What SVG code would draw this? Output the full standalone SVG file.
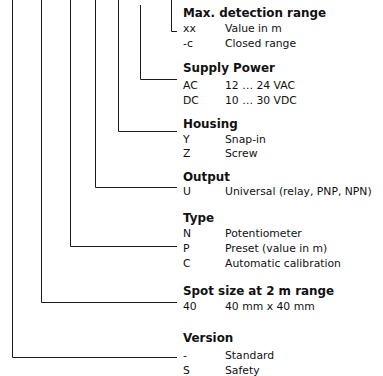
<svg xmlns="http://www.w3.org/2000/svg" width="383" height="376" viewBox="0 0 383 376">
<style>
.c{fill:none;stroke:#1a1a1a;stroke-width:1}
text{font-family:"DejaVu Sans","Liberation Sans",sans-serif;fill:#111}
.h{font-weight:bold;font-size:11.9px}
.t{font-size:10.8px}
</style>
<rect width="383" height="376" fill="#fff"/>
<g id="connectors">
<path class="c" d="M171.5 0V31.5H177"/>
<path class="c" d="M140.5 5V79.5H177"/>
<path class="c" d="M118.5 0V131.5H177"/>
<path class="c" d="M95.5 0V187.5H177"/>
<path class="c" d="M70.5 0V246.5H177"/>
<path class="c" d="M41.5 0V302.5H177"/>
<path class="c" d="M12.5 0V357.5H177"/>
</g>
<g id="range">
<text class="h" x="183" y="16.5">Max. detection range</text>
<text class="t" x="183" y="32">xx</text><text class="t" x="225" y="32">Value in m</text>
<text class="t" x="183" y="46.5">-c</text><text class="t" x="225" y="46.5">Closed range</text>
</g>
<g id="power">
<text class="h" x="183" y="72">Supply Power</text>
<text class="t" x="183" y="89">AC</text><text class="t" x="225" y="89">12 … 24 VAC</text>
<text class="t" x="183" y="104">DC</text><text class="t" x="225" y="104">10 … 30 VDC</text>
</g>
<g id="housing">
<text class="h" x="183" y="127.5">Housing</text>
<text class="t" x="183" y="142.5">Y</text><text class="t" x="225" y="142.5">Snap-in</text>
<text class="t" x="183" y="156.5">Z</text><text class="t" x="225" y="156.5">Screw</text>
</g>
<g id="output">
<text class="h" x="183" y="181">Output</text>
<text class="t" x="183" y="195">U</text><text class="t" x="225" y="195">Universal (relay, PNP, NPN)</text>
</g>
<g id="type">
<text class="h" x="183" y="221.5">Type</text>
<text class="t" x="183" y="237">N</text><text class="t" x="225" y="237">Potentiometer</text>
<text class="t" x="183" y="251.5">P</text><text class="t" x="225" y="251.5">Preset (value in m)</text>
<text class="t" x="183" y="266.5">C</text><text class="t" x="225" y="266.5">Automatic calibration</text>
</g>
<g id="spot">
<text class="h" x="183" y="295">Spot size at 2 m range</text>
<text class="t" x="183" y="310">40</text><text class="t" x="225" y="310">40 mm x 40 mm</text>
</g>
<g id="version">
<text class="h" x="183" y="341.5">Version</text>
<text class="t" x="183" y="359">-</text><text class="t" x="225" y="359">Standard</text>
<text class="t" x="183" y="373.5">S</text><text class="t" x="225" y="373.5">Safety</text>
</g>
</svg>
